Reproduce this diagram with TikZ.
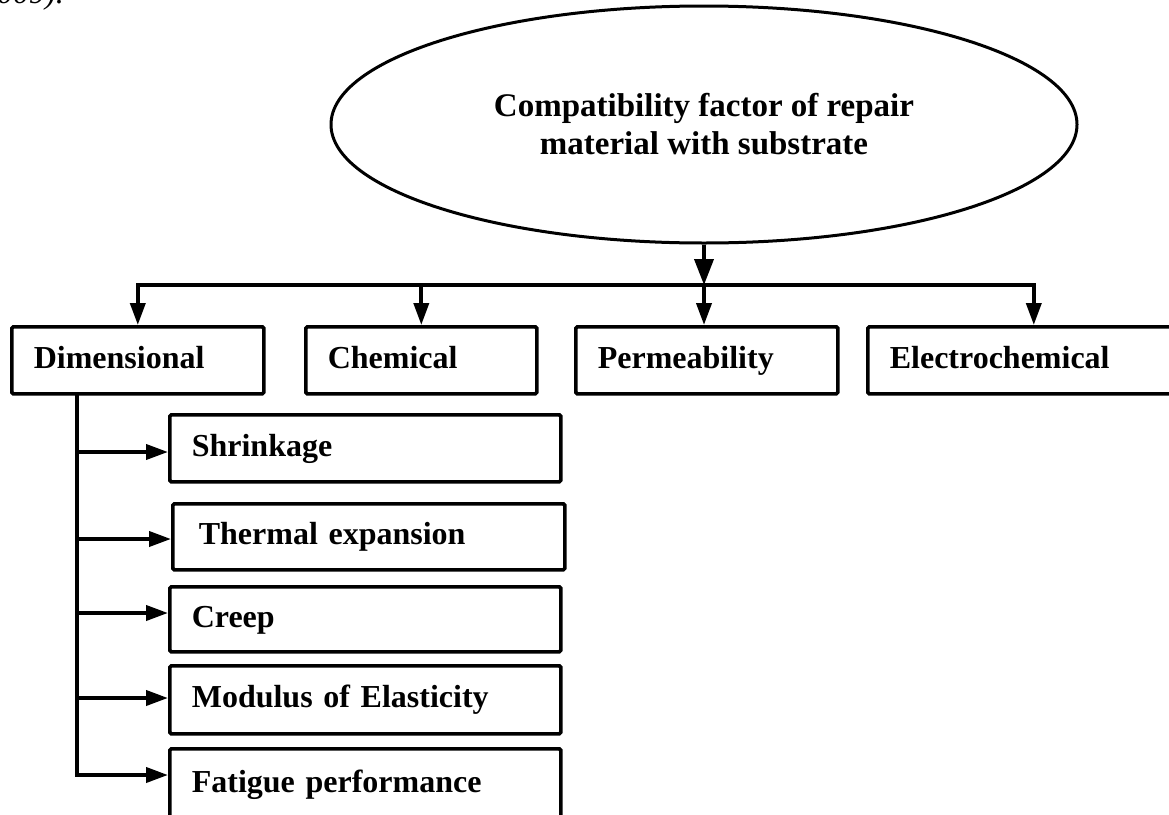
\documentclass[tikz,border=0pt]{standalone}
\usepackage{fontspec}
\setmainfont{Liberation Serif}
\usetikzlibrary{shapes.geometric,arrows.meta}
\begin{document}
\begin{tikzpicture}[x=1pt,y=-1pt,
  boxfont/.style={font=\bfseries\fontsize{32}{38}\selectfont},
  box/.style={draw, line width=3.6pt, rounded corners=1.5pt, anchor=north west,
    inner xsep=22pt, inner ysep=0pt, align=left, text height=23pt, text depth=7pt, boxfont},
  link/.style={line width=3.8pt},
  arr/.style={line width=3.8pt, -{Triangle[length=22pt,width=15pt]}},
  bigarr/.style={line width=3.8pt, -{Triangle[length=26pt,width=19pt]}},
]
\useasboundingbox (0,0) rectangle (1169,814);
\clip (0,0) rectangle (1169,814);

% tail of the preceding text line
\node[anchor=base east, inner sep=0pt, font=\itshape\fontsize{32}{38}\selectfont] (cite) at (64,3) {(2009).};

% root ellipse
\node[ellipse, draw, line width=3pt, minimum width=746pt, minimum height=237pt,
  inner sep=0pt, align=center, font=\bfseries\fontsize{33}{38}\selectfont]
  (root) at (704,124.5) {Compatibility factor of repair\\material with substrate};

% first level
\node[box, text width=208pt, minimum height=67pt] (dim)  at (10,325)  {Dimensional};
\node[box, text width=187pt, minimum height=67pt] (chem) at (304,325) {Chemical};
\node[box, text width=218pt, minimum height=67pt] (perm) at (574,325) {Permeability};
\node[box, text width=288pt, minimum height=67pt] (elec) at (866,325) {Electrochemical};

% second level under Dimensional
\node[box, text width=347pt, minimum height=67pt] (shr) at (168,413) {Shrinkage};
\node[box, text width=340pt, minimum height=66pt, inner xsep=26pt] (thm) at (171,502) {Thermal expansion};
\node[box, text width=347pt, minimum height=65pt] (crp) at (168,585) {Creep};
\node[box, text width=347pt, minimum height=68pt] (mod) at (168,664) {Modulus of Elasticity};
\node[box, text width=347pt, minimum height=71pt] (fat) at (168,747) {Fatigue performance};

% distribution bus
\coordinate (bus) at (704,285);
\draw[bigarr] (root.south) -- (bus);
\draw[link, line cap=rect] (dim.north |- bus) -- (elec.north |- bus);
\draw[arr] (dim.north |- bus) -- (dim.north);
\draw[arr] (chem.north |- bus) -- (chem.north);
\draw[arr] (bus) -- (bus |- perm.north);
\draw[arr] (elec.north |- bus) -- (elec.north);

% spine under Dimensional
\coordinate (spine) at (77,392);
\draw[arr] (spine) |- (fat.west |- 0,775);
\draw[arr] (spine |- 0,452) -- (shr.west |- 0,452);
\draw[arr] (spine |- 0,539) -- (thm.west |- 0,539);
\draw[arr] (spine |- 0,613) -- (crp.west |- 0,613);
\draw[arr] (spine |- 0,698) -- (mod.west |- 0,698);
\end{tikzpicture}
\end{document}
